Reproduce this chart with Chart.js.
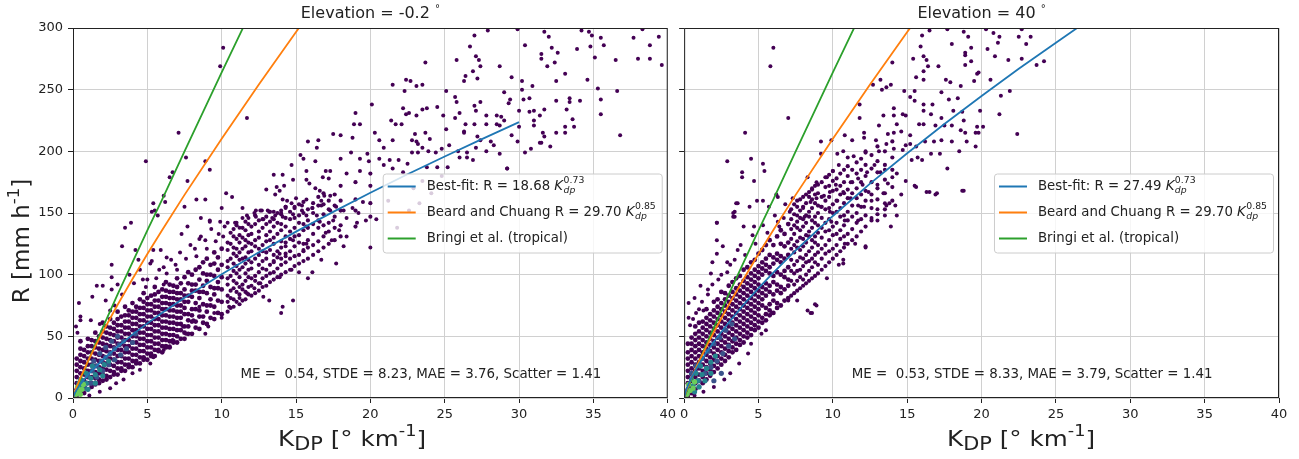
<!DOCTYPE html>
<html>
<head>
<meta charset="utf-8">
<script src="https://cdn.jsdelivr.net/npm/chart.js@4.4.0/dist/chart.umd.min.js"></script>
<style>
  body { margin: 0; background: #fff; width: 1299px; height: 459px; position: relative; overflow: hidden; }
  canvas { position: absolute; top: 0; }
  #left { left: 0; }
  #right { left: 676px; }
</style>
</head>
<body>
<canvas id="left" width="680" height="459"></canvas>
<canvas id="right" width="623" height="459"></canvas>
<script>
// ---- axes ----
var kdpTicks = [0, 5, 10, 15, 20, 25, 30, 35, 40];
var rTicks = [0, 50, 100, 150, 200, 250, 300];

// ---- fitted / reference curves ----
var kdpFitLow = [0, 0.1, 0.25, 0.5, 1, 1.5, 2, 3, 4, 5, 6, 7.5, 10, 12.5, 15, 17.5, 20, 22.5, 25, 27.5, 30];
var rFitLow = [0, 3.5, 6.8, 11.3, 18.7, 25.1, 31.0, 41.6, 51.4, 60.5, 69.1, 81.3, 100.3, 118.1, 134.9, 150.9, 166.4, 181.4, 195.8, 209.9, 223.7];
var kdpFitHigh = [0, 0.1, 0.25, 0.5, 1, 1.5, 2, 3, 4, 5, 6, 7.5, 10, 12.5, 15, 17.5, 20, 22.5, 25, 27.5];
var rFitHigh = [0, 5.1, 10.0, 16.6, 27.5, 36.9, 45.6, 61.2, 75.6, 89.0, 101.7, 119.7, 147.6, 173.8, 198.5, 222.1, 244.9, 266.9, 288.1, 309.0];
var kdpBeard = [0, 0.1, 0.25, 0.5, 1, 1.5, 2, 3, 4, 5, 6, 7.5, 10, 12.5, 15, 17.5];
var rBeard = [0, 4.2, 9.1, 16.5, 29.7, 41.9, 53.5, 75.6, 96.5, 116.7, 136.2, 164.7, 210.2, 254.2, 296.7, 338.3];
var kdpBringi = [0, 0.1, 0.25, 0.5, 1, 1.5, 2, 3, 4, 5, 6, 7.5, 10, 12.5];
var rBringi = [0, 3.2, 7.8, 15.3, 29.5, 43.5, 57, 84, 110, 136, 161, 200, 264, 327];

// ---- elevation -0.2 deg: single scattered points ----
var lowSparse = [
  [27.9,298],[29.9,299],[31.7,297],[32.0,293],[34.2,298],[34.7,297],[34.9,294],[35.5,292],[35.7,286],[37.7,292],[38.3,299],[38.8,286],[39.4,293],[39.6,270],[38.0,275],[38.8,275],[36.5,274],[35.1,276],[34.8,285],[33.9,283],
  [33.1,263],[32.5,257],[31.9,269],[32.4,272],[32.6,280],[32.2,284],[31.5,279],[31.5,275],[30.4,286],[30.2,257],[30.9,253],[30.2,250],[29.5,260],[29.0,248],[29.4,242],[30.3,242],[30.7,243],[29.3,239],[30.0,233],[30.7,232],
  [31.0,233],[31.4,229],[31.7,234],[32.5,241],[33.4,243],[33.4,240],[34.1,241],[33.2,234],[33.6,226],[33.1,220],[33.7,220],[31.0,225],[31.0,221],[31.6,215],[31.7,212],[32.5,215],[33.1,215],[31.5,207],[32.1,204],[30.8,202],
  [30.4,199],[29.5,213],[29.9,208],[30.0,220],[35.5,242],[35.5,230],[35.3,251],[36.6,249],[36.8,213],[34.6,258],[31.4,207],[29.2,186],
  [26.7,285],[27.0,294],[25.8,274],[27.1,277],[27.3,274],[27.4,269],[26.9,265],[26.4,261],[26.3,257],[27.2,259],[28.7,269],[23.7,272],[22.4,258],[22.7,257],[23.1,253],[23.5,254],[21.5,254],[22.3,249],[25.1,249],[25.7,244],
  [25.8,240],[27.0,237],[27.4,240],[27.1,233],[27.8,229],[28.5,229],[28.8,228],[29.0,225],[28.5,222],[28.7,221],[27.8,222],[27.0,222],[26.4,222],[26.3,216],[26.0,231],[25.7,227],[24.9,229],[24.5,236],[23.8,235],[23.5,234],
  [23.1,229],[22.6,231],[22.4,230],[22.2,235],[21.7,222],[22.1,222],[21.4,225],[20.1,238],[19.0,231],[18.9,222],[19.3,222],[17.5,214],[18.0,213],[18.8,211],[20.3,215],[20.6,209],[21.5,209],[23.0,214],[23.1,208],[23.7,215],
  [24.0,210],[23.2,206],[22.8,209],[25.1,218],[26.3,215],[27.2,212],[28.1,208],[28.3,205],[27.4,209],[27.8,200],[27.1,203],[26.5,199],[25.9,200],[25.3,205],[24.8,202],[24.4,199],[23.9,200],[23.5,203],[23.2,199],[22.8,199],
  [20.9,203],[19.8,198],[18.0,194],[18.7,199],[19.3,194],[19.9,192],[20.6,194],[21.3,193],[21.9,193],[22.5,190],[23.8,187],[24.5,187],[25.2,187],[26.0,195],[26.5,195],[26.9,193],[29.2,186],[28.7,198],[17.3,184],[18.4,182],
  [19.3,184],[20.9,189],[21.5,186],[22.2,183],[23.5,176],[24.8,180],[22.9,170],[24.1,166],[21.2,160],[22.6,152],[20.4,145],[21.8,138],[23.3,158],[20.0,122],
  [10.1,284],[9.9,269],[11.7,227],[7.1,215],[4.9,192],[7.6,195],[8.9,192],[9.2,185],[6.7,183],[6.5,179],[7.7,176],[6.1,164],[6.2,159],[5.4,158],[5.5,152],[5.3,151],[3.9,142],[5.7,148],[7.5,155],[8.3,161],
  [8.9,161],[10.0,154],[10.3,166],[10.7,163],[8.6,146],[9.2,143],[10.4,142],
  [15.8,208],[16.5,209],[16.4,203],[15.3,197],[15.5,194],[16.3,192],[14.7,189],[15.7,184],[17.0,184],[14.1,181],[13.5,181],[14.8,177],[15.7,177],[15.9,174],[16.8,179],[17.2,178],[13.0,169],[13.7,171],[14.2,172],[13.9,168],
  [16.3,170],[16.6,168],[16.9,164],[17.3,164],[14.1,161],[14.4,160],[15.0,162],[15.7,161],[13.6,165],[14.3,155],[14.9,155],[15.4,152],[16.1,154],[16.7,160],[15.7,148],[16.4,148],[17.3,152],[12.3,152],[12.7,152],[13.1,152],
  [13.5,151],[14.0,150],[11.4,154],[11.7,148],[12.3,147],[12.8,145],[13.4,146],[14.1,147],[14.8,149],[11.4,146],[9.9,143],[11.0,142],
  [3.5,138],[3.3,123],[4.2,120],[2.6,108],[2.6,98],[1.6,91],[2.0,91],[2.6,88],[1.3,82],[0.4,77],[0.5,66],[0.5,63],[0.2,58],[0.3,53],[1.2,63],[1.8,60],[2.5,71],[2.8,75],[2.2,79],[4.5,104],
  [4.7,96],[5.2,109],[6.1,106],[5.4,120],[5.9,120],[5.3,111],[6.3,114],[7.3,133],[7.7,139],[8.5,129],[8.9,128],[9.2,144],[10.2,139],[10.9,142],[11.2,138],[11.8,146],[12.2,150],[12.6,152],[13.2,151],[13.6,148],
  [14.0,152],[14.3,154],[14.7,158],[15.4,156],[16.1,154],[16.7,156],[17.7,155],[18.2,152],[18.8,154],[19.5,159],[19.2,150],[18.4,146],[17.5,144],[16.6,143],[15.7,139],[17.0,134],[17.4,128],[17.9,136],[18.4,131],[19.1,142],
  [19.7,144],[18.2,123],[16.7,112],[17.7,109],[15.8,97],[14.7,104],[15.2,102],[16.1,102],[14.3,115],[13.9,117],[13.5,110],[14.3,123],[15.5,120],[14.8,128],[15.7,125],[13.9,98],[12.8,82],[13.2,79],[12.2,89],[14.1,74],
  [14.0,69],[14.8,79],[12.6,93],[11.7,85],[11.2,81],[10.5,74],[10.0,65],[9.5,69],[8.9,52],[9.1,58],[8.5,74],[8.1,63],[7.4,58],[7.6,52],[6.7,47],[6.5,42],[6.1,39],[5.4,33],[5.2,28],[4.5,23],
  [4.0,20],[3.4,15],[2.9,12],[2.5,8],[1.8,5],[1.1,2],
  [3.0,92],[3.8,100],[4.4,112],[5.0,96],[5.8,104],[6.6,112],[7.2,118],[7.9,124],[8.6,131],[9.3,137],[3.3,84],[4.1,93],[6.9,108],[8.2,121],[9.8,133],
  [4.9,90],[5.6,97],[6.3,101],[7.0,104],[7.6,113],[8.3,115],[9.0,121],[9.6,127],[10.1,131],[6.1,92]
];
// packed cloud, one column of R values per KDP position
var lowDenseCols = [
  [0.25,[2,7,12,17,22,27,32]],
  [0.5,[5,10,15,20,25,30,35,40,46]],
  [0.75,[4,9,14,19,24,29,34,39]],
  [1.0,[7,12,17,22,27,32,37,42,48]],
  [1.25,[9,12,17,22,27,32,37,42,47]],
  [1.5,[11,16,21,26,31,36,41,46,53]],
  [1.75,[12,15,20,25,30,35,40,45,50]],
  [2.0,[14,19,24,29,34,39,44,49,54,61]],
  [2.25,[15,18,23,28,33,38,43,48,53,58]],
  [2.5,[17,22,27,32,37,42,47,52,57,64]],
  [2.75,[19,21,26,31,36,41,46,51,56,61]],
  [3.0,[19,24,29,34,39,44,49,54,59,64,70]],
  [3.25,[22,24,29,34,39,44,49,54,59,66]],
  [3.5,[22,27,32,37,42,47,52,57,62,67,74]],
  [3.75,[25,27,32,37,42,47,52,57,62,67,71]],
  [4.0,[25,30,35,40,45,50,55,60,65,70,77]],
  [4.25,[28,30,35,40,45,50,55,60,65,70,74]],
  [4.5,[28,33,38,43,48,53,58,63,68,73,80]],
  [4.75,[31,33,38,43,48,53,58,63,68,73,78,85]],
  [5.0,[31,36,41,46,51,56,61,66,71,76,81]],
  [5.25,[34,36,41,46,51,56,61,66,71,76,83]],
  [5.5,[34,39,44,49,54,59,64,69,74,79,84,90]],
  [5.75,[38,39,44,49,54,59,64,69,74,79,86]],
  [6.0,[37,42,47,52,57,62,67,72,77,82,88]],
  [6.25,[41,42,47,52,57,62,67,72,77,82,87,94]],
  [6.5,[41,46,51,56,61,66,71,76,81,86,92]],
  [6.75,[45,46,51,56,61,66,71,76,81,86,91]],
  [7.0,[45,50,55,60,65,70,75,80,85,90,97]],
  [7.25,[48,55,60,65,70,75,80,85,93]],
  [7.5,[48,53,58,68,73,78,83,88,98]],
  [7.75,[52,58,63,68,78,83,93,102]],
  [8.0,[52,62,67,72,82,87,92,100]],
  [8.25,[57,62,72,77,87,92,104]],
  [8.5,[56,66,71,81,86,96,106]],
  [8.75,[61,66,76,86,91,101,110]],
  [9.0,[60,70,75,85,95,100,113]],
  [9.25,[65,75,80,90,100,108]],
  [9.5,[64,74,84,89,99,109,118]],
  [9.75,[69,79,89,94,104,114]],
  [10.0,[68,78,88,98,108,121]]
];
var lowMidCols = [
  [10.4,[70,78,83,92,97,106,111,120,126]],
  [10.6,[73,81,87,99,113,125,134]],
  [10.8,[74,80,89,95,103,109,117,122,131,137]],
  [11.0,[78,86,93,101,107,115,121,129,140]],
  [11.2,[76,84,90,98,104,112,118,126,132]],
  [11.4,[79,88,92,106,113,121,130,138]],
  [11.6,[80,86,95,101,109,114,123,128,136,143]],
  [11.8,[84,90,98,104,112,118,126,132,141]],
  [12.0,[83,91,97,105,110,119,125,133,139]],
  [12.25,[85,95,99,113,123,128,141,148]],
  [12.5,[87,93,102,108,116,121,130,135,144]],
  [12.75,[90,97,105,111,119,124,138,145]],
  [13.0,[91,99,104,113,118,127,132,141,147]],
  [13.25,[94,101,108,120,128,135,143,151]],
  [13.5,[96,102,111,116,125,130,139,145]],
  [13.75,[98,105,114,119,133,142,150]],
  [14.0,[100,108,113,122,127,136,141,149]],
  [14.3,[102,110,117,126,131,139,146,155]],
  [14.6,[104,113,119,129,135,145,151]],
  [14.9,[107,115,123,131,138,146,154]],
  [15.2,[109,116,126,132,142,148,157]],
  [15.5,[111,119,125,136,141,150,159]],
  [15.8,[113,122,128,138,144,153]],
  [16.15,[116,124,133,141,150,158]],
  [16.5,[119,127,138,144,156,163]],
  [16.85,[122,131,140,149,157,166]],
  [17.2,[125,135,142,153,160]],
  [17.6,[128,138,147,156,165]],
  [18.0,[131,140,152,160,172]],
  [19.0,[139,152,161,175]],
  [20.0,[147,158,172,182]]
];
var lowCoreBlue = [[0.6,14],[1.0,18],[1.3,22],[1.6,26],[1.9,30],[2.2,33],[2.5,36],[2.8,40],[3.1,43],[3.4,46],[1.2,12],[1.6,17],[2.0,22],[2.4,27],[2.8,31],[3.2,35],[0.8,8],[1.4,30],[1.8,36],[2.2,41],[2.6,46],[3.0,50],[3.6,40],[4.0,45],[4.2,52]];
var lowCoreTeal = [[0.3,6],[0.6,9],[0.9,12],[1.2,16],[1.5,19],[1.8,23],[2.1,27],[0.5,15],[0.9,20],[1.3,26],[1.0,7],[1.5,12],[2.0,18],[2.4,30],[0.4,12]];
var lowCoreGreen = [[0.2,3],[0.4,5],[0.6,7],[0.3,9],[0.7,11],[0.5,3]];

// ---- elevation 40 deg: single scattered points ----
var highSparse = [
  [6.0,284],[5.8,269],[7.0,227],[4.1,215],[2.9,192],[4.5,194],[5.3,190],[5.4,184],[3.9,183],[3.9,179],[4.7,176],[4.9,160],[5.3,160],[3.6,158],[3.4,151],[4.4,155],[6.2,165],[6.3,163],[2.2,142],[3.3,147],
  [16.5,298],[17.7,299],[18.8,297],[19.1,293],[16.0,294],[18.0,287],[19.3,284],[15.9,285],[15.4,275],[16.1,277],[16.3,274],[16.4,269],[17.1,269],[18.9,278],[19.3,273],[18.9,270],[19.7,263],[19.5,257],[16.1,265],[15.6,260],
  [16.1,258],[14.0,272],[13.2,258],[13.6,252],[13.9,254],[12.7,254],[13.3,250],[17.6,258],[17.9,256],[18.6,253],[17.3,248],[17.8,242],[18.4,243],[15.5,249],[14.8,249],[15.2,244],[15.5,241],[16.1,238],[16.7,238],[16.1,233],
  [16.6,230],[17.3,227],[18.1,233],[18.7,232],[19.9,233],[18.8,225],[19.7,220],[19.8,215],[18.9,215],[18.6,217],[18.0,221],[17.5,221],[16.9,221],[16.1,222],[15.8,222],[15.2,213],[14.6,216],[14.1,215],[13.7,214],[13.1,221],
  [13.4,229],[14.1,235],[14.1,229],[14.7,230],[14.9,229],[14.3,222],[12.9,209],[12.1,211],[12.1,215],[11.8,238],[11.8,227],[10.8,213],[11.3,209],[12.2,200],[13.1,200],[13.6,206],[14.1,202],[14.7,201],[14.9,205],[15.2,206],
  [15.6,204],[16.2,208],[16.8,208],[17.3,209],[18.0,208],[19.0,208],[19.6,204],[18.5,200],[17.2,198],[16.6,198],[15.7,195],[15.3,193],[16.0,193],[17.7,186],[16.5,167],[17.0,166],[18.8,168],[15.6,171],[14.9,176],[14.3,182],
  [13.5,185],[13.2,183],[12.8,189],[12.3,183],[11.7,178],[12.0,173],[12.4,167],[13.0,173],[13.7,174],[14.0,179],[14.6,165],[13.6,156],[13.0,153],[12.6,160],[12.1,155],[11.2,175],[10.7,200],[11.0,195],[11.4,196],[10.4,189],
  [10.0,184],[9.6,179],[9.2,198],[9.2,208],[9.9,209],[10.3,198],[10.7,167],[11.2,162],[11.7,156],[10.2,173],[9.8,167],[10.3,160],[9.4,164],[8.9,175],[8.3,179],[8.6,170],[8.9,162],[9.2,155],[9.8,151],[8.5,159],
  [8.0,154],[7.6,148],[8.1,147],[7.1,151],[6.7,146],[6.3,143],[5.7,155],[9.9,143],[10.8,144],[11.7,144],[12.6,146],
  [20.3,299],[20.8,296],[21.2,293],[21.1,288],[20.4,283],[20.9,277],[21.8,274],[22.7,299],[22.5,293],[23.3,293],[23.0,287],[22.7,275],[23.7,270],[24.2,273],[19.8,264],[20.6,258],[21.9,249],[21.3,245],[21.2,230],[22.4,214],
  [20.1,220],[19.6,215],[18.9,280],[16.9,165],[16.3,167],[18.7,168],[15.5,172],[13.8,158],[13.4,166],[12.2,122],[10.7,109],[8.8,76],[8.5,69],
  [3.5,158],[3.3,150],[3.4,147],[2.2,142],[4.0,139],[4.7,139],[2.2,128],[2.6,123],[2.2,117],[2.9,110],[3.6,120],[1.9,110],[1.8,101],[1.1,91],[1.6,88],[0.7,81],[0.3,77],[0.3,65],[0.8,69],[1.3,71],
  [0.4,59],[13.5,158],[14.2,156],[14.3,148],[13.5,148],[13.9,139],[13.0,144],[12.2,123],[11.5,125],[10.8,125],[10.7,112],[10.4,108],[9.6,97],[8.9,75],[8.6,69],[8.3,71],[7.6,79],[7.0,79],[5.9,69],[5.5,55],
  [5.2,52],[4.5,44],[4.3,36],[3.7,28],[3.1,20],[2.7,15],[2.0,9],[1.3,5],[0.7,2],
  [1.2,78],[1.9,92],[2.5,100],[3.1,108],[3.8,124],[4.6,132],[5.3,140],[6.1,148],[6.8,157],[7.3,162],
  [2.3,96],[2.9,102],[3.4,112],[4.1,116],[4.8,125],[5.6,134],[6.4,139],[1.6,84],[1.0,72],[0.6,64]
];
var highDenseCols = [
  [0.25,[2,7,12,17,22,27,32,37,44]],
  [0.5,[4,9,14,19,24,29,34,39,44,49]],
  [0.75,[7,12,17,22,27,32,37,42,47,52,58]],
  [1.0,[9,14,19,24,29,34,39,44,49,54,61]],
  [1.25,[12,17,22,27,32,37,42,47,52,57,62]],
  [1.5,[15,20,25,30,35,40,45,50,55,60,65,72]],
  [1.75,[18,23,28,33,38,43,48,53,58,63,68]],
  [2.0,[21,26,31,36,41,46,51,56,61,66,71,78]],
  [2.25,[24,29,34,39,44,49,54,59,64,69,74,80]],
  [2.5,[27,32,37,42,47,52,57,62,67,72,77,86]],
  [2.75,[30,35,40,45,50,55,60,65,70,75,80,85]],
  [3.0,[33,38,43,48,53,58,63,68,73,78,83,91]],
  [3.25,[37,41,46,51,56,61,66,71,76,81,86,94]],
  [3.5,[39,44,49,54,59,64,69,74,79,84,89,97]],
  [3.75,[43,47,52,57,62,67,72,77,82,87,92,99]],
  [4.0,[45,50,55,60,65,70,75,80,85,90,95,104]],
  [4.25,[49,53,58,63,68,73,78,83,88,93,98,106]],
  [4.5,[51,56,61,66,71,76,81,86,91,96,101,110]],
  [4.75,[55,59,64,69,74,79,84,89,94,99,104,112]],
  [5.0,[57,62,67,72,77,82,87,92,97,102,107,117]],
  [5.25,[61,65,75,80,85,90,100,105,110,120]],
  [5.5,[63,68,73,83,88,93,103,108,113,124]],
  [5.75,[67,71,76,86,91,101,106,116,128]],
  [6.0,[69,79,84,94,99,109,114,124]],
  [6.25,[73,77,87,92,102,112,117,131]],
  [6.5,[75,85,90,100,110,115,125,136]],
  [6.75,[79,88,98,103,113,123,133]],
  [7.0,[81,91,96,106,116,126,141]]
];
var highMidCols = [
  [7.2,[83,95,103,112,121,129,137,145,153]],
  [7.4,[85,92,101,108,118,124,133,140,149,157]],
  [7.6,[87,95,103,111,122,127,138,143,155,160]],
  [7.8,[89,98,104,114,120,130,136,146,152,161]],
  [8.0,[91,96,107,113,123,129,139,145,155,163]],
  [8.2,[93,100,110,116,126,132,142,148,158,165]],
  [8.4,[95,103,111,119,131,135,147,151,163,167]],
  [8.6,[97,106,113,122,128,138,144,154,161,169]],
  [8.8,[99,110,116,126,131,142,147,158,165,172]],
  [9.0,[101,108,118,124,134,140,150,156,166,173]],
  [9.25,[104,113,121,130,138,146,155,163,175]],
  [9.5,[107,117,124,135,142,153,160,171,179]],
  [9.75,[110,119,128,136,145,154,163,172,181]],
  [10.0,[113,121,132,139,150,157,168,176,184]],
  [10.25,[116,124,133,142,151,160,169,178]],
  [10.5,[119,129,136,147,154,165,172,182]],
  [10.75,[122,131,140,148,158,166,175,185]],
  [11.0,[125,133,144,151,162,169,180,188]],
  [11.3,[128,137,147,156,166,175,185]],
  [11.6,[131,142,150,162,170,182,191]],
  [11.9,[135,145,155,165,175,185,194]],
  [12.2,[139,148,160,168,180,189,199]],
  [12.6,[144,154,165,175,186,197]],
  [13.0,[149,161,170,183,192,204]],
  [13.5,[153,166,177,189,200]],
  [14.0,[160,171,185,195,208]]
];
var highCoreBlue = [[0.5,20],[0.8,26],[1.2,32],[1.6,38],[2.0,44],[2.4,49],[2.8,55],[3.2,60],[1.4,20],[1.8,25],[2.2,30],[2.6,36],[3.0,42],[3.4,48],[1.0,14],[2.5,20],[2.0,14]];
var highCoreTeal = [[0.3,6],[0.6,10],[0.9,14],[1.2,19],[1.5,24],[1.8,29],[2.1,34],[0.5,15],[0.8,20],[1.1,26],[0.7,5],[1.0,9],[1.4,14],[1.8,20]];
var highCoreGreen = [[0.2,3],[0.4,6],[0.6,8],[0.3,11],[0.7,13]];

var FONT = "'DejaVu Sans', sans-serif";

function xy(xs, ys) {
  return xs.map(function (x, i) { return { x: x, y: ys[i] }; });
}

function unpack(cols) {
  var out = [];
  cols.forEach(function (c) {
    c[1].forEach(function (r) { out.push([c[0], r]); });
  });
  return out;
}

function curve(label, color, xs, ys) {
  return { type: 'line', label: label, data: xy(xs, ys), borderColor: color, borderWidth: 1.8,
           pointRadius: 0, fill: false, tension: 0 };
}

function dots(data, color, r) {
  return { type: 'scatter', data: data, backgroundColor: color, borderWidth: 0, pointRadius: r };
}

function richKdp(ctx, prefix, expo, x, y, size, draw) {
  ctx.font = size + 'px ' + FONT;
  if (draw) ctx.fillText(prefix, x, y);
  x += ctx.measureText(prefix).width;
  ctx.font = 'italic ' + size + 'px ' + FONT;
  if (draw) ctx.fillText('K', x, y);
  x += ctx.measureText('K').width + 0.5;
  var small = size * 0.7;
  ctx.font = 'italic ' + small + 'px ' + FONT;
  var w1 = ctx.measureText('dp').width;
  if (draw) ctx.fillText('dp', x, y + size * 0.3);
  ctx.font = small + 'px ' + FONT;
  var w2 = ctx.measureText(expo).width;
  if (draw) ctx.fillText(expo, x, y - size * 0.42);
  return x + Math.max(w1, w2);
}

function drawParts(ctx, parts, cx, cy) {
  var total = 0;
  parts.forEach(function (p) { ctx.font = p.s + 'px ' + FONT; p.w = ctx.measureText(p.t).width; total += p.w; });
  var x = cx - total / 2;
  parts.forEach(function (p) { ctx.font = p.s + 'px ' + FONT; ctx.fillText(p.t, x, cy + p.dy); x += p.w; });
}

var decor = {
  id: 'decor',
  afterDraw: function (chart, args, o) {
    var ctx = chart.ctx, a = chart.chartArea;
    ctx.save();
    // frame
    ctx.strokeStyle = '#222';
    ctx.lineWidth = 1;
    ctx.strokeRect(a.left + 0.5, a.top + 0.5, a.right - a.left - 1, a.bottom - a.top - 1);

    // legend box
    var size = 13.3, rowH = 26;
    ctx.textBaseline = 'middle';
    var tw = 0;
    o.legend.forEach(function (row) {
      var w = row.expo ? richKdp(ctx, row.text, row.expo, 0, 0, size, false) : (ctx.font = size + 'px ' + FONT, ctx.measureText(row.text).width);
      tw = Math.max(tw, w);
    });
    var bw = 5 + 28 + 11 + tw + 6, bh = rowH * 3 + 1;
    var bx = a.right - 6 - bw, by = (a.top + a.bottom) / 2 - bh / 2;
    ctx.beginPath();
    ctx.roundRect(bx + 0.5, by + 0.5, bw, bh, 3);
    ctx.fillStyle = 'rgba(255,255,255,0.8)';
    ctx.fill();
    ctx.strokeStyle = '#cccccc';
    ctx.stroke();
    o.legend.forEach(function (row, i) {
      var cy = by + 13 + i * rowH;
      ctx.strokeStyle = row.color;
      ctx.lineWidth = 2;
      ctx.beginPath();
      ctx.moveTo(bx + 5, cy);
      ctx.lineTo(bx + 33, cy);
      ctx.stroke();
      ctx.fillStyle = '#222';
      if (row.expo) {
        richKdp(ctx, row.text, row.expo, bx + 44, cy, size, true);
      } else {
        ctx.font = size + 'px ' + FONT;
        ctx.fillText(row.text, bx + 44, cy);
      }
    });

    // error statistics
    ctx.fillStyle = '#222';
    ctx.textAlign = 'center';
    ctx.font = '13.4px ' + FONT;
    ctx.fillText(o.stats, a.left + 0.585 * (a.right - a.left), a.bottom - 23);

    // title with small raised degree sign
    ctx.textAlign = 'left';
    ctx.font = '16px ' + FONT;
    var tw2 = ctx.measureText(o.title).width;
    ctx.font = '10px ' + FONT;
    var dw = ctx.measureText('°').width;
    var tx = (a.left + a.right) / 2 - (tw2 + dw) / 2;
    ctx.font = '16px ' + FONT;
    ctx.fillText(o.title, tx, 14);
    ctx.font = '10px ' + FONT;
    ctx.fillText('°', tx + tw2, 9);

    // x axis label: K_DP [° km^-1]
    var big = 22;
    ctx.save();
    ctx.translate(o.xlabelX, 440);
    ctx.scale(1.12, 1);
    drawParts(ctx, [
      { t: 'K', s: big, dy: 0 },
      { t: 'DP', s: big * 0.85, dy: 5 },
      { t: ' [° km', s: big, dy: 0 },
      { t: '-1', s: big * 0.72, dy: -8 },
      { t: ']', s: big, dy: 0 }
    ], 0, 0);
    ctx.restore();

    // y axis label: R [mm h^-1]
    if (o.ylabel) {
      ctx.translate(23, 241);
      ctx.rotate(-Math.PI / 2);
      drawParts(ctx, [
        { t: 'R [mm h', s: 23, dy: 0 },
        { t: '-1', s: 23 * 0.72, dy: -8 },
        { t: ']', s: 23, dy: 0 }
      ], 0, 0);
    }
    ctx.restore();
  }
};

function makeChart(id, cfg) {
  var datasets = [
    curve('Best-fit', '#1f77b4', cfg.fitX, cfg.fitY),
    curve('Beard and Chuang', '#ff7f0e', kdpBeard, rBeard),
    curve('Bringi et al. (tropical)', '#2ca02c', kdpBringi, rBringi),
    dots(cfg.green, '#6ccd5a', 2.6),
    dots(cfg.teal, '#25858e', 2.6),
    dots(cfg.blue, '#3b528b', 2.6),
    dots(cfg.sparse, '#440154', 2),
    dots(unpack(cfg.mid), '#440154', 2.1),
    dots(unpack(cfg.dense), '#440154', 2.4)
  ];
  return new Chart(document.getElementById(id), {
    type: 'scatter',
    data: { datasets: datasets },
    plugins: [decor],
    options: {
      responsive: false,
      animation: false,
      events: [],
      layout: { padding: { top: 28, right: cfg.padRight, bottom: 0, left: 0 } },
      plugins: {
        legend: { display: false },
        tooltip: { enabled: false },
        decor: { title: cfg.title, stats: cfg.stats, legend: cfg.legend, ylabel: cfg.ylabel, xlabelX: cfg.xlabelX }
      },
      scales: {
        x: {
          type: 'linear', min: kdpTicks[0], max: kdpTicks[kdpTicks.length - 1],
          afterFit: function (s) { s.height = 61; },
          afterBuildTicks: function (s) { s.ticks = kdpTicks.map(function (v) { return { value: v }; }); },
          grid: { color: '#d0d0d0', tickColor: '#222', tickLength: 5, lineWidth: 1 },
          border: { display: false },
          ticks: { color: '#222', font: { family: FONT, size: 13 }, padding: 4, maxRotation: 0, autoSkip: false }
        },
        y: {
          type: 'linear', min: rTicks[0], max: rTicks[rTicks.length - 1],
          afterFit: function (s) { s.width = cfg.yWidth; },
          afterBuildTicks: function (s) { s.ticks = rTicks.map(function (v) { return { value: v }; }); },
          grid: { color: '#d0d0d0', tickColor: '#222', tickLength: 5, lineWidth: 1 },
          border: { display: false },
          ticks: { display: cfg.ylabel, color: '#222', font: { family: FONT, size: 13 }, padding: 5, autoSkip: false }
        }
      }
    }
  });
}

makeChart('left', {
  title: 'Elevation = -0.2 ',
  stats: 'ME =  0.54, STDE = 8.23, MAE = 3.76, Scatter = 1.41',
  fitX: kdpFitLow, fitY: rFitLow,
  sparse: lowSparse, mid: lowMidCols, dense: lowDenseCols, blue: lowCoreBlue, teal: lowCoreTeal, green: lowCoreGreen,
  legend: [
    { color: '#1f77b4', text: 'Best-fit: R = 18.68 ', expo: '0.73' },
    { color: '#ff7f0e', text: 'Beard and Chuang R = 29.70 ', expo: '0.85' },
    { color: '#2ca02c', text: 'Bringi et al. (tropical)' }
  ],
  ylabel: true, yWidth: 73, padRight: 12, xlabelX: 352
});

makeChart('right', {
  title: 'Elevation = 40 ',
  stats: 'ME =  0.53, STDE = 8.33, MAE = 3.79, Scatter = 1.41',
  fitX: kdpFitHigh, fitY: rFitHigh,
  sparse: highSparse, mid: highMidCols, dense: highDenseCols, blue: highCoreBlue, teal: highCoreTeal, green: highCoreGreen,
  legend: [
    { color: '#1f77b4', text: 'Best-fit: R = 27.49 ', expo: '0.73' },
    { color: '#ff7f0e', text: 'Beard and Chuang R = 29.70 ', expo: '0.85' },
    { color: '#2ca02c', text: 'Bringi et al. (tropical)' }
  ],
  ylabel: false, yWidth: 8, padRight: 20, xlabelX: 345
});
</script>
</body>
</html>
